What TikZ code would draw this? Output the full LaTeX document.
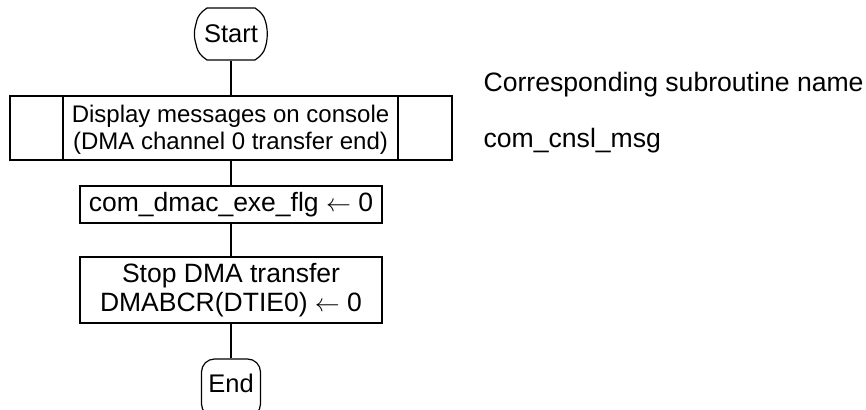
\documentclass[tikz,border=0pt]{standalone}
\usepackage{fontspec}
\setmainfont{Liberation Sans}
\begin{document}
\begin{tikzpicture}[x=1pt,y=-1pt,line width=1.2pt,
  txt/.style={font=\fontsize{26.5}{29}\selectfont, inner sep=0pt, align=center},
  smalltxt/.style={font=\fontsize{24}{26.5}\selectfont, inner sep=0pt, align=center},
  sidetxt/.style={font=\fontsize{26.6}{30}\selectfont, inner sep=0pt},
  termtxt/.style={font=\fontsize{25.5}{28}\selectfont, inner sep=0pt},
  procbox/.style={draw, inner sep=0pt, minimum width=302pt},
  termbox/.style={draw, rounded corners=13pt, inner sep=0pt}]
\useasboundingbox (0,0) rectangle (866,409);
% Start terminal
\node[termtxt, minimum width=72pt, minimum height=52pt] (start) at (231,34) {Start};
\draw (207,8) -- (255,8) .. controls (261,12) and (264,16) .. (265,20)
  .. controls (268,28) and (268,40) .. (265,48)
  .. controls (264,52) and (261,56) .. (255,60) -- (207,60)
  .. controls (201,56) and (198,52) .. (197,48)
  .. controls (196,44) and (194,38) .. (194.5,34)
  .. controls (194,30) and (196,24) .. (197,20)
  .. controls (198,16) and (201,12) .. (207,8) -- cycle;
% Subroutine box
\node[draw, inner sep=0pt, minimum width=442pt, minimum height=64pt] (sub) at (231,128) {};
\draw (63,96) -- (63,160);
\draw (398,96) -- (398,160);
\node[smalltxt] (subtxt) at (230.5,130) {Display messages on console\\(DMA channel 0 transfer end)};
% Process boxes
\node[procbox, txt, minimum height=37pt] (flg) at (231,204.5) {com\_dmac\_exe\_flg $\leftarrow$ 0};
\node[procbox, txt, minimum height=66pt] (stop) at (231,290) {Stop DMA transfer\\DMABCR(DTIE0) $\leftarrow$ 0};
% End terminal
\node[termbox, minimum width=59pt, minimum height=58pt] (end) at (231,388) {};
\node[termtxt] (endtxt) at (231,383) {End};
% Connectors
\draw (start.south) -- (sub.north);
\draw (sub.south) -- (flg.north);
\draw (flg.south) -- (stop.north);
\draw (stop.south) -- (end.north);
% Side labels
\node[sidetxt, anchor=base west] (hdr) at (483,92) {Corresponding subroutine name};
\node[sidetxt, anchor=base west] (sname) at (483,147) {com\_cnsl\_msg};
\end{tikzpicture}
\end{document}
